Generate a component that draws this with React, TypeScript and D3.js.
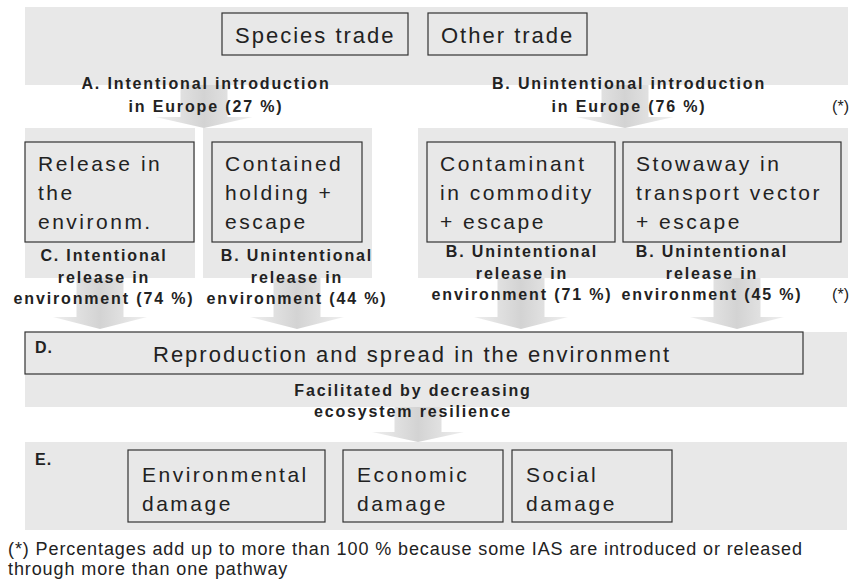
import React from 'react';
import * as d3 from 'd3';

// stages of the pathway diagram
const sources = ['Species trade', 'Other trade'];
const introLabels = ['A. Intentional introduction', 'B. Unintentional introduction'];
const introShares = [27, 76];
const pathways = [
  ['Release in', 'the', 'environm.'],
  ['Contained', 'holding +', 'escape'],
  ['Contaminant', 'in commodity', '+ escape'],
  ['Stowaway in', 'transport vector', '+ escape'],
];
const releaseKinds = ['C. Intentional', 'B. Unintentional', 'B. Unintentional', 'B. Unintentional'];
const releaseShares = [74, 44, 71, 45];
const spreadTitle = 'Reproduction and spread in the environment';
const spreadNote = ['Facilitated by decreasing', 'ecosystem resilience'];
const impacts = [['Environmental', 'damage'], ['Economic', 'damage'], ['Social', 'damage']];
const footnote = [
  '(*) Percentages add up to more than 100 % because some IAS are introduced or released',
  'through more than one pathway',
];

const W = 851;
const H = 580;
const PANEL = '#e8e8e8';
const INK = '#222';
const FONT = 'Arial, "Liberation Sans", Helvetica, sans-serif';

// layout of the panels and boxes
const srcBoxes = [{ x: 222, w: 186 }, { x: 428, w: 159 }];
const pathBoxes = [
  { x: 25, w: 169 },
  { x: 212, w: 150 },
  { x: 427, w: 188 },
  { x: 623, w: 218 },
];
const releaseCenters = [104, 297, 522, 712];
const releaseBase = [261, 261, 257, 257];
const arrowCenters = [100, 297, 521, 737];
const introCenters = [206, 629];
const introArrows = [204, 625];
const impactBoxes = [{ x: 128, w: 197 }, { x: 343, w: 160 }, { x: 512, w: 160 }];

function arrowPath(cx: number, top: number, baseY: number, tip: number, shaft: number, head: number) {
  const p = d3.path();
  p.moveTo(cx - shaft / 2, top);
  p.lineTo(cx + shaft / 2, top);
  p.lineTo(cx + shaft / 2, baseY);
  p.lineTo(cx + head / 2, baseY);
  p.lineTo(cx, tip);
  p.lineTo(cx - head / 2, baseY);
  p.lineTo(cx - shaft / 2, baseY);
  p.closePath();
  return p.toString();
}

const labelStyle = { fontFamily: FONT, fontWeight: 700, fontSize: 16, letterSpacing: 1.85, fill: INK } as const;
const boxText = { fontFamily: FONT, fontSize: 21, letterSpacing: 2.5, fill: INK } as const;

export default function App() {
  return (
    <svg width={W} height={H} style={{ position: 'absolute', left: 0, top: 0, background: '#fff' }}>
      <defs>
        <linearGradient id="arr" x1="0" x2="1" y1="0" y2="0">
          <stop offset="0" stopColor="#efefef" />
          <stop offset="0.5" stopColor="#d3d3d3" />
          <stop offset="1" stopColor="#efefef" />
        </linearGradient>
      </defs>

      {/* grey panels */}
      <rect x={25} y={7} width={823} height={78} fill={PANEL} />
      <rect x={25} y={128} width={170} height={150} fill={PANEL} />
      <rect x={203} y={128} width={169} height={150} fill={PANEL} />
      <rect x={418} y={128} width={430} height={150} fill={PANEL} />
      <rect x={25} y={332} width={822} height={75} fill={PANEL} />
      <rect x={25} y={442} width={822} height={88} fill={PANEL} />

      {/* arrows */}
      {introArrows.map((cx, i) => (
        <path key={'ia' + i} d={arrowPath(cx, 85, 117, 128, 47, 97)} fill="url(#arr)" />
      ))}
      {arrowCenters.map((cx, i) => (
        <path key={'ra' + i} d={arrowPath(cx, 278, 317, 329, 47, 94)} fill="url(#arr)" />
      ))}
      <path d={arrowPath(418, 407, 432, 442, 47, 92)} fill="url(#arr)" />

      {/* sources */}
      {sources.map((s, i) => (
        <g key={s}>
          <rect x={srcBoxes[i].x} y={13} width={srcBoxes[i].w} height={42} fill={PANEL} stroke="#333" strokeWidth={1.2} />
          <text x={srcBoxes[i].x + 13} y={43} style={{ ...boxText, fontSize: 22, letterSpacing: 2 }}>{s}</text>
        </g>
      ))}

      {/* introduction labels */}
      {introLabels.map((l, i) => (
        <text key={l} textAnchor="middle" style={labelStyle}>
          <tspan x={introCenters[i]} y={89}>{l}</tspan>
          <tspan x={introCenters[i]} y={112}>{`in Europe (${introShares[i]} %)`}</tspan>
        </text>
      ))}
      <text x={849} y={112} textAnchor="end" style={{ fontFamily: FONT, fontSize: 16, fill: INK }}>(*)</text>

      {/* pathway boxes */}
      {pathways.map((lines, i) => {
        const b = pathBoxes[i];
        return (
          <g key={'p' + i}>
            <rect x={b.x} y={142} width={b.w} height={100} fill={PANEL} stroke="#333" strokeWidth={1.2} />
            <text style={boxText}>
              {lines.map((t, j) => (
                <tspan key={j} x={b.x + 13} y={171 + j * 29}>{t}</tspan>
              ))}
            </text>
          </g>
        );
      })}

      {/* release labels */}
      {releaseKinds.map((k, i) => (
        <text key={'r' + i} textAnchor="middle" style={labelStyle}>
          <tspan x={releaseCenters[i]} y={releaseBase[i]}>{k}</tspan>
          <tspan x={releaseCenters[i]} y={releaseBase[i] + 21.5}>release in</tspan>
          <tspan x={releaseCenters[i]} y={releaseBase[i] + 43}>{`environment (${releaseShares[i]} %)`}</tspan>
        </text>
      ))}
      <text x={849} y={300} textAnchor="end" style={{ fontFamily: FONT, fontSize: 16, fill: INK }}>(*)</text>

      {/* spread */}
      <rect x={25} y={332} width={778} height={42} fill={PANEL} stroke="#333" strokeWidth={1.2} />
      <text x={35} y={353} style={{ ...labelStyle, letterSpacing: 1 }}>D.</text>
      <text x={153} y={362} style={{ ...boxText, fontSize: 22, letterSpacing: 2 }}>{spreadTitle}</text>
      <text textAnchor="middle" style={labelStyle}>
        {spreadNote.map((t, j) => (
          <tspan key={j} x={413} y={396 + j * 21}>{t}</tspan>
        ))}
      </text>

      {/* impacts */}
      <text x={35} y={465} style={{ ...labelStyle, letterSpacing: 1 }}>E.</text>
      {impacts.map((lines, i) => (
        <g key={'e' + i}>
          <rect x={impactBoxes[i].x} y={450} width={impactBoxes[i].w} height={72} fill={PANEL} stroke="#333" strokeWidth={1.2} />
          <text style={boxText}>
            {lines.map((t, j) => (
              <tspan key={j} x={impactBoxes[i].x + 14} y={482 + j * 29}>{t}</tspan>
            ))}
          </text>
        </g>
      ))}

      {/* footnote */}
      <text style={{ fontFamily: FONT, fontSize: 18, letterSpacing: 0.9, fill: INK }}>
        {footnote.map((t, j) => (
          <tspan key={j} x={8} y={555 + j * 20}>{t}</tspan>
        ))}
      </text>
    </svg>
  );
}
